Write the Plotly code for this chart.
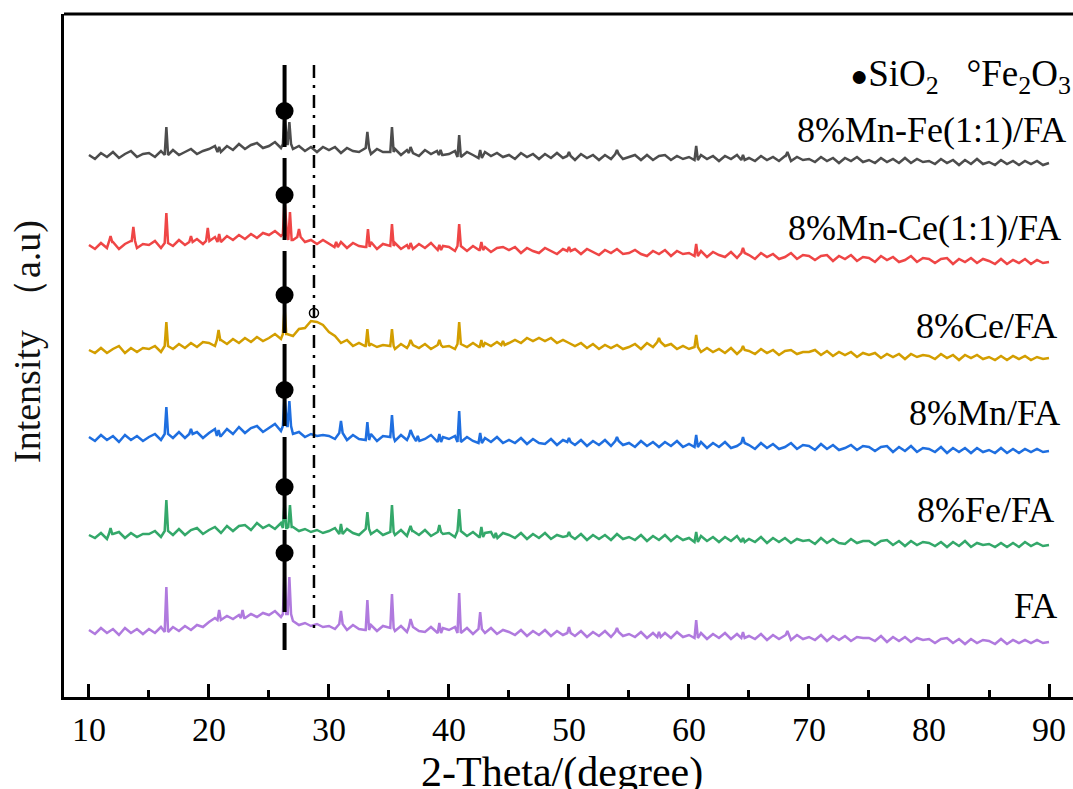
import plotly.graph_objects as go

# 2-theta sampling grid of the scans (degrees)
two_theta = [10 + 0.5 * i for i in range(161)]

sample_names = ["8%Mn-Fe(1:1)/FA", "8%Mn-Ce(1:1)/FA", "8%Ce/FA", "8%Mn/FA", "8%Fe/FA", "FA"]
line_colors = ["#4d4d4d", "#ef4646", "#d39e00", "#1f6fe0", "#34a86a", "#b07ade"]
stack_offsets = [534, 435, 339, 246, 152, 55]

# background intensity (a.u., above each curve's end level), 10-90 deg in 0.5 deg steps
base_mnfe = [8, 4, 10, 6, 11, 5, 9, 12, 6, 9,
             10, 6, 12, 8, 13, 8, 11, 14, 9, 12,
             14, 17, 11, 17, 13, 19, 14, 18, 20, 15,
             17, 21, 15, 19, 14, 17, 12, 16, 11, 16,
             13, 16, 10, 15, 12, 11, 15, 9, 14, 11,
             11, 14, 8, 13, 10, 7, 13, 9, 12, 8,
             9, 12, 6, 11, 8, 5, 11, 7, 10, 6,
             8, 4, 10, 6, 9, 4, 9, 5, 10, 5,
             7, 3, 9, 5, 8, 3, 8, 4, 9, 4,
             6, 8, 3, 8, 3, 7, 8, 3, 7, 4,
             6, 3, 8, 4, 7, 2, 7, 4, 8, 3,
             5, 2, 7, 3, 6, 2, 7, 2, 6, 3,
             4, 1, 6, 2, 5, 0, 5, 2, 6, 1,
             3, 0, 5, 1, 4, 0, 5, 0, 4, 1,
             2, -1, 4, 0, 3, -2, 3, -1, 4, -1,
             1, -2, 3, -1, 2, -2, 2, -1, 2, -2,
             0]
base_mnce = [17, 13, 19, 14, 20, 13, 18, 21, 14, 18,
             17, 21, 14, 19, 16, 22, 17, 20, 23, 18,
             21, 25, 20, 26, 22, 27, 23, 28, 24, 29,
             27, 31, 26, 28, 22, 25, 20, 22, 18, 22,
             18, 15, 20, 14, 19, 16, 15, 20, 13, 18,
             16, 19, 13, 17, 13, 18, 14, 19, 12, 16,
             15, 11, 16, 11, 16, 12, 15, 10, 14, 15,
             12, 15, 9, 14, 11, 9, 14, 11, 8, 13,
             11, 13, 8, 13, 10, 7, 12, 9, 13, 8,
             9, 12, 8, 6, 11, 8, 12, 6, 11, 8,
             9, 6, 11, 5, 10, 7, 5, 10, 4, 9,
             7, 3, 9, 5, 8, 3, 5, 9, 3, 7,
             6, 2, 6, 7, 1, 6, 3, 7, 1, 5,
             4, 0, 6, 2, 5, 0, 2, 6, 0, 4,
             3, -1, 3, 4, -2, 3, 0, 4, -1, 3,
             1, -2, 3, -2, 2, -1, 3, -2, 2, -1,
             0]
base_ce = [8, 5, 10, 5, 9, 12, 5, 10, 6, 10,
           9, 12, 6, 12, 9, 14, 10, 15, 11, 16,
           15, 12, 18, 14, 19, 15, 20, 16, 21, 17,
           20, 24, 19, 24, 22, 29, 30, 37, 36, 33,
           26, 22, 15, 18, 12, 15, 12, 14, 11, 13,
           12, 9, 14, 10, 13, 10, 14, 9, 13, 11,
           12, 9, 14, 11, 15, 11, 15, 12, 16, 13,
           15, 18, 15, 20, 17, 20, 17, 20, 15, 18,
           15, 12, 15, 10, 14, 9, 13, 10, 13, 9,
           11, 14, 9, 15, 11, 16, 12, 14, 9, 12,
           9, 11, 6, 10, 6, 9, 5, 10, 4, 8,
           7, 4, 9, 5, 8, 3, 7, 8, 4, 6,
           6, 8, 3, 7, 2, 6, 3, 6, 1, 5,
           3, 5, 0, 4, 1, 4, -1, 4, 1, 3,
           2, -1, 4, 0, 3, -2, 3, 0, 3, -1,
           1, -2, 2, -2, 2, -1, 2, -2, 1, -1,
           0]
base_mn = [14, 10, 16, 11, 15, 9, 16, 11, 15, 10,
           14, 17, 11, 17, 13, 19, 13, 17, 19, 13,
           18, 22, 15, 22, 17, 24, 18, 23, 25, 19,
           23, 27, 20, 25, 17, 19, 14, 17, 15, 16,
           15, 12, 18, 11, 16, 12, 11, 17, 10, 15,
           14, 10, 16, 11, 15, 10, 12, 16, 9, 14,
           12, 15, 9, 14, 10, 8, 13, 9, 14, 8,
           11, 8, 13, 7, 12, 8, 7, 12, 6, 11,
           9, 6, 11, 5, 10, 6, 11, 5, 10, 6,
           8, 4, 10, 5, 9, 4, 9, 5, 10, 4,
           7, 4, 9, 3, 8, 4, 9, 3, 5, 8,
           6, 2, 8, 3, 7, 2, 4, 8, 2, 6,
           5, 1, 7, 2, 6, 1, 3, 6, 1, 5,
           4, 0, 4, 5, -1, 4, 0, 5, -1, 3,
           2, -1, 4, -2, 3, -1, 3, -2, 3, -1,
           1, -2, 3, -2, 2, -2, 2, -1, 2, -1,
           0]
base_fe = [10, 7, 12, 6, 11, 13, 7, 12, 8, 11,
           11, 14, 8, 14, 10, 16, 10, 15, 17, 11,
           15, 18, 12, 19, 14, 19, 20, 15, 22, 17,
           20, 16, 22, 17, 18, 14, 16, 13, 15, 12,
           14, 17, 11, 16, 12, 10, 16, 11, 15, 10,
           13, 10, 15, 9, 14, 10, 15, 9, 13, 11,
           12, 8, 14, 9, 13, 8, 12, 13, 7, 12,
           10, 7, 12, 6, 11, 7, 12, 6, 10, 8,
           9, 6, 11, 5, 10, 6, 10, 5, 11, 6,
           8, 5, 10, 4, 9, 5, 10, 4, 9, 5,
           7, 3, 9, 4, 8, 3, 8, 4, 9, 3,
           6, 3, 8, 2, 7, 3, 7, 2, 6, 4,
           5, 1, 7, 2, 6, 2, 1, 6, 2, 4,
           4, 0, 4, 5, 0, 4, -1, 4, 0, 3,
           2, -1, 3, -2, 3, -1, 4, -2, 2, 0,
           1, -2, 2, -2, 2, -2, 3, -1, 2, -1,
           0]
base_fa = [12, 8, 14, 9, 13, 7, 14, 9, 13, 8,
           13, 9, 15, 10, 15, 11, 16, 12, 17, 15,
           20, 24, 22, 26, 23, 27, 24, 28, 25, 29,
           27, 31, 25, 28, 21, 17, 19, 16, 18, 15,
           16, 13, 18, 12, 17, 13, 12, 17, 11, 16,
           14, 11, 16, 10, 15, 11, 10, 15, 9, 14,
           12, 15, 9, 14, 8, 13, 9, 14, 8, 12,
           10, 7, 12, 6, 11, 7, 12, 6, 11, 7,
           9, 6, 11, 5, 10, 6, 11, 5, 10, 6,
           8, 5, 10, 4, 9, 5, 9, 4, 10, 5,
           7, 4, 9, 3, 8, 4, 9, 3, 8, 4,
           6, 3, 8, 2, 7, 3, 7, 2, 7, 3,
           5, 2, 7, 1, 6, 2, 6, 1, 5, 4,
           4, 1, 6, 0, 5, 1, 5, 0, 4, 2,
           3, -1, 3, 4, -1, 3, -2, 3, -1, 2,
           1, -2, 3, -2, 2, -1, 2, -1, 2, -1,
           0]

# sharp reflections: (2-theta position, height above background)
peaks_mnfe = [(16.45, 28), (20.85, 5), (26.3, 32), (26.7, 22), (33.2, 16), (35.25, 25),
              (36.8, 6), (39.3, 5), (40.85, 22), (42.6, 8), (50.0, 4), (54.0, 4),
              (60.6, 14), (64.5, 5), (68.2, 4)]
peaks_mnce = [(11.8, 6), (13.7, 14), (16.45, 30), (18.5, 6), (19.9, 13), (20.85, 8),
              (26.3, 34), (26.75, 28), (27.5, 8), (30.6, 5), (33.25, 18), (35.25, 22),
              (36.8, 6), (39.2, 5), (40.85, 22), (42.7, 8), (50.0, 4), (60.6, 12), (64.5, 5)]
peaks_ce = [(16.45, 24), (20.8, 10), (26.3, 26), (33.2, 17), (35.25, 17), (36.8, 5),
            (39.2, 5), (40.85, 22), (42.7, 7), (44.5, 4), (57.5, 4), (60.6, 12), (64.5, 4)]
peaks_mn = [(16.45, 27), (18.5, 5), (20.8, 6), (26.3, 30), (26.7, 25), (31.0, 12),
            (33.2, 18), (35.25, 22), (36.8, 6), (37.4, 5), (39.2, 8), (40.85, 31),
            (42.6, 10), (50.0, 4), (54.0, 4), (60.6, 12), (64.5, 6)]
peaks_fe = [(11.8, 6), (16.45, 31), (26.3, 26), (26.75, 22), (31.0, 10), (33.2, 17),
            (35.25, 27), (36.8, 5), (39.2, 7), (40.85, 22), (42.7, 10), (43.9, 5),
            (50.0, 4), (60.6, 10), (64.5, 4)]
peaks_fa = [(16.45, 45), (20.85, 10), (22.8, 8), (26.3, 45), (26.7, 37), (31.0, 13),
            (33.2, 30), (35.25, 34), (36.8, 8), (39.2, 10), (40.85, 40), (42.6, 17),
            (50.0, 6), (54.0, 4), (57.5, 5), (60.6, 18), (64.5, 6), (68.2, 4)]

backgrounds = [base_mnfe, base_mnce, base_ce, base_mn, base_fe, base_fa]
reflections = [peaks_mnfe, peaks_mnce, peaks_ce, peaks_mn, peaks_fe, peaks_fa]

# phase markers
sio2_theta = 26.3
sio2_marker_y = [586, 502, 402, 307, 210, 144]
fe2o3_theta = 28.75
fe2o3_marker_y = 384
label_y = [567, 469, 371, 284, 187, 91]
label_x = [91.6, 91.2, 90.8, 91.1, 90.6, 90.8]

SERIF = "Liberation Serif"


def pattern(base, peaks, offset):
    centres = [p for p, _ in peaks]
    pts = [(x, b) for x, b in zip(two_theta, base)
           if all(abs(x - c) > 0.16 for c in centres)]
    for p, h in peaks:
        b = base[round((p - two_theta[0]) / 0.5)]
        pts += [(p - 0.14, b), (p, b + h), (p + 0.14, b)]
    pts.sort()
    return [q[0] for q in pts], [offset + q[1] for q in pts]


fig = go.Figure()

for name, color, off, base, pk in zip(sample_names, line_colors, stack_offsets,
                                      backgrounds, reflections):
    xs, ys = pattern(base, pk, off)
    fig.add_trace(go.Scatter(x=xs, y=ys, mode="lines", name=name,
                             line=dict(color=color, width=2.5), showlegend=False))

# reference lines for the SiO2 and Fe2O3 reflections
fig.add_trace(go.Scatter(x=[sio2_theta, sio2_theta], y=[632, 47], mode="lines",
                         line=dict(color="black", width=4, dash="82px,11px"),
                         showlegend=False))
fig.add_trace(go.Scatter(x=[fe2o3_theta, fe2o3_theta], y=[632, 69], mode="lines",
                         line=dict(color="black", width=2.5, dash="13px,7px,3px,7px"),
                         showlegend=False))
fig.add_trace(go.Scatter(x=[sio2_theta] * len(sio2_marker_y), y=sio2_marker_y,
                         mode="markers", marker=dict(color="black", size=18),
                         showlegend=False))
fig.add_trace(go.Scatter(x=[fe2o3_theta], y=[fe2o3_marker_y], mode="markers",
                         marker=dict(symbol="circle-open", color="black", size=9,
                                     line=dict(width=1.5)),
                         showlegend=False))

annotations = []
for name, lx, ly in zip(sample_names, label_x, label_y):
    annotations.append(dict(x=lx, y=ly, xref="x", yref="y", text=name,
                            showarrow=False, xanchor="right", yanchor="middle",
                            font=dict(family=SERIF, size=36, color="black")))
annotations.append(dict(x=1.0, y=621, xref="paper", yref="y",
                        text='<span style="font-size:30px">●</span>SiO<sub>2</sub>'
                             '\u00a0\u00a0\u00a0°Fe<sub>2</sub>O<sub>3</sub>',
                        showarrow=False, xanchor="right", yanchor="middle",
                        font=dict(family=SERIF, size=37, color="black")))
annotations.append(dict(x=0.494, y=-0.11, xref="paper", yref="paper",
                        text="2-Theta/(degree)", showarrow=False,
                        xanchor="center", yanchor="middle",
                        font=dict(family=SERIF, size=42, color="black")))
# vertical axis title, set in two pieces so the Latin part keeps the serif face
annotations.append(dict(x=-0.0367, y=0.4407, xref="paper", yref="paper",
                        text="Intensity", textangle=-90, showarrow=False,
                        xanchor="center", yanchor="middle",
                        font=dict(family=SERIF, size=38, color="#111111")))
annotations.append(dict(x=-0.0367, y=0.628, xref="paper", yref="paper",
                        text="（a.u)", textangle=-90, showarrow=False,
                        xanchor="center", yanchor="middle",
                        font=dict(family=SERIF, size=38, color="#111111")))

fig.update_layout(
    width=1073, height=789,
    margin=dict(l=64, r=0, t=14, b=92),
    paper_bgcolor="white", plot_bgcolor="white",
    font=dict(family=SERIF, color="black"),
    annotations=annotations,
    shapes=[dict(type="line", xref="paper", yref="paper", x0=0, x1=1, y0=1, y1=1,
                 line=dict(color="black", width=3))],
    xaxis=dict(range=[7.92, 92.0], tick0=10, dtick=10, showgrid=False, zeroline=False,
               showline=True, linecolor="black", linewidth=3,
               ticks="inside", ticklen=13, tickwidth=3, tickcolor="black",
               tickfont=dict(family=SERIF, size=34, color="black"),
               minor=dict(ticks="inside", ticklen=7, tickwidth=3, tickcolor="black",
                          dtick=5, tick0=5, showgrid=False)),
    yaxis=dict(range=[0, 683], showgrid=False, zeroline=False, showline=True,
               linecolor="black", linewidth=3, showticklabels=False, ticks=""),
)

fig.write_html("out.html", config={"displayModeBar": False})
